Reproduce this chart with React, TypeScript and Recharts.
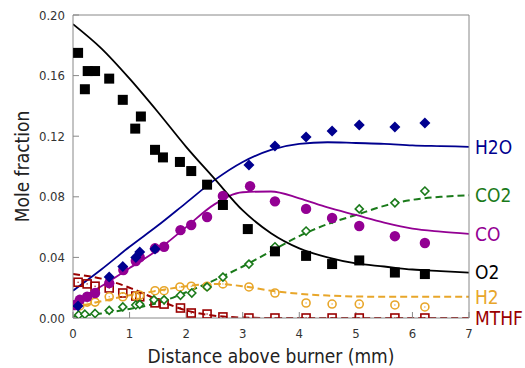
import React from 'react';
import { ComposedChart, Line, Scatter, XAxis, YAxis, ReferenceDot } from 'recharts';

// Model (simulation) curves
const modelX = [0, 0.5, 1, 1.5, 2, 2.5, 3, 3.5, 4, 4.5, 5, 5.5, 6, 6.5, 7];
const o2Model = [0.194, 0.178, 0.158, 0.136, 0.113, 0.092, 0.071, 0.056, 0.046, 0.04, 0.036, 0.034, 0.032, 0.031, 0.03];
const h2oModel = [0.018, 0.032, 0.047, 0.061, 0.076, 0.091, 0.103, 0.111, 0.115, 0.116, 0.1155, 0.115, 0.114, 0.1135, 0.113];
const coModel = [0.0105, 0.021, 0.033, 0.045, 0.06, 0.075, 0.083, 0.0835, 0.079, 0.073, 0.068, 0.063, 0.059, 0.057, 0.0555];
const co2Model = [0.001, 0.003, 0.006, 0.01, 0.017, 0.025, 0.034, 0.044, 0.054, 0.062, 0.068, 0.074, 0.078, 0.08, 0.081];
const h2Model = [0.007, 0.011, 0.015, 0.018, 0.021, 0.0225, 0.021, 0.018, 0.016, 0.0148, 0.0142, 0.014, 0.014, 0.014, 0.014];
const mthfModel = [0.029, 0.026, 0.02, 0.012, 0.005, 0.0015, 0.0003, 0, 0, 0, 0, 0, 0, 0, 0];

// Experimental points
const o2X = [0.09, 0.21, 0.26, 0.39, 0.64, 0.88, 1.1, 1.2, 1.45, 1.59, 1.89, 2.09, 2.37, 2.65, 3.09, 3.57, 4.12, 4.58, 5.06, 5.69, 6.22];
const o2Y = [0.175, 0.151, 0.163, 0.163, 0.158, 0.144, 0.125, 0.133, 0.111, 0.106, 0.103, 0.097, 0.088, 0.0746, 0.0587, 0.044, 0.041, 0.0356, 0.038, 0.03, 0.029];
const h2oX = [0.09, 0.64, 0.88, 1.11, 1.18, 1.45, 3.11, 3.57, 4.12, 4.58, 5.06, 5.69, 6.22];
const h2oY = [0.008, 0.027, 0.034, 0.04, 0.0436, 0.0455, 0.101, 0.1135, 0.1195, 0.1234, 0.1274, 0.126, 0.1287];
const coX = [0.04, 0.12, 0.25, 0.39, 0.64, 0.89, 1.11, 1.18, 1.45, 1.61, 1.9, 2.09, 2.37, 2.65, 3.13, 3.57, 4.12, 4.58, 5.06, 5.69, 6.22];
const coY = [0.0086, 0.012, 0.014, 0.0165, 0.023, 0.0317, 0.0376, 0.04, 0.046, 0.047, 0.058, 0.0614, 0.0667, 0.0805, 0.087, 0.077, 0.072, 0.066, 0.0607, 0.054, 0.0495];
const co2X = [0.1, 0.21, 0.39, 0.64, 0.88, 1.11, 1.18, 1.43, 1.61, 1.9, 2.1, 2.37, 2.65, 3.11, 3.57, 4.12, 4.58, 5.06, 5.69, 6.22];
const co2Y = [0.002, 0.0025, 0.003, 0.005, 0.0073, 0.0086, 0.009, 0.012, 0.012, 0.015, 0.0165, 0.0205, 0.027, 0.0356, 0.047, 0.0574, 0.0653, 0.072, 0.076, 0.0838];
const h2X = [0.12, 0.25, 0.39, 0.64, 0.88, 1.11, 1.18, 1.45, 1.61, 1.89, 2.09, 2.37, 2.65, 3.11, 3.57, 4.12, 4.58, 5.06, 5.69, 6.22];
const h2Y = [0.008, 0.0105, 0.0105, 0.014, 0.014, 0.0145, 0.015, 0.018, 0.018, 0.0205, 0.021, 0.021, 0.0225, 0.0205, 0.0165, 0.0099, 0.0092, 0.0092, 0.0086, 0.0073];
const mthfX = [0.09, 0.25, 0.39, 0.64, 0.88, 1.11, 1.18, 1.45, 1.61, 1.9, 2.09, 2.37, 2.65, 3.11, 3.57, 4.12, 4.58, 5.06, 5.69, 6.22];
const mthfY = [0.0236, 0.0225, 0.021, 0.0198, 0.0165, 0.0145, 0.014, 0.01, 0.0092, 0.0066, 0.0033, 0.0026, 0.0007, 0, 0, 0, 0, 0, 0, 0];

const xTicks = [0, 1, 2, 3, 4, 5, 6, 7];
const yTicks = [0, 0.04, 0.08, 0.12, 0.16, 0.2];

const zip = (xs: number[], ys: number[]) => xs.map((x, i) => ({ x, y: ys[i] }));

const C = {
  o2: '#000000',
  h2o: '#00008f',
  co: '#930093',
  co2: '#1a7a1a',
  h2: '#e8a62a',
  mthf: '#9a0000',
  axis: '#888888',
};

const FilledSquare = (p: any) => <rect x={p.cx - 5} y={p.cy - 5} width={10} height={10} fill={C.o2} />;
const FilledDiamond = (p: any) => (
  <polygon points={`${p.cx},${p.cy - 5.5} ${p.cx + 5.5},${p.cy} ${p.cx},${p.cy + 5.5} ${p.cx - 5.5},${p.cy}`} fill={C.h2o} />
);
const FilledCircle = (p: any) => <circle cx={p.cx} cy={p.cy} r={5.2} fill={C.co} />;
const OpenDiamond = (p: any) => (
  <g>
    <polygon points={`${p.cx},${p.cy - 4} ${p.cx + 4},${p.cy} ${p.cx},${p.cy + 4} ${p.cx - 4},${p.cy}`} fill="#ffffff" stroke={C.co2} strokeWidth={1.6} />
  </g>
);
const OpenCircle = (p: any) => (
  <g>
    <circle cx={p.cx} cy={p.cy} r={4} fill="none" stroke={C.h2} strokeWidth={1.6} />
    <circle cx={p.cx} cy={p.cy} r={0.7} fill={C.h2} />
  </g>
);
const OpenSquare = (p: any) => (
  <g>
    <rect x={p.cx - 4} y={p.cy - 4} width={8} height={8} fill="none" stroke={C.mthf} strokeWidth={1.6} />
    <circle cx={p.cx} cy={p.cy} r={0.7} fill={C.mthf} />
  </g>
);

const series = [
  { name: 'MTHF', color: C.mthf, model: mthfModel, dash: '7 4', xs: mthfX, ys: mthfY, shape: OpenSquare },
  { name: 'H2', color: C.h2, model: h2Model, dash: '7 4', xs: h2X, ys: h2Y, shape: OpenCircle },
  { name: 'CO2', color: C.co2, model: co2Model, dash: '7 4', xs: co2X, ys: co2Y, shape: OpenDiamond },
  { name: 'CO', color: C.co, model: coModel, dash: undefined, xs: coX, ys: coY, shape: FilledCircle },
  { name: 'H2O', color: C.h2o, model: h2oModel, dash: undefined, xs: h2oX, ys: h2oY, shape: FilledDiamond },
  { name: 'O2', color: C.o2, model: o2Model, dash: undefined, xs: o2X, ys: o2Y, shape: FilledSquare },
];

export default function App() {
  return (
    <div style={{ position: 'absolute', left: 0, top: 0, fontFamily: '"DejaVu Sans Condensed", "DejaVu Sans", sans-serif' }}>
      <ComposedChart width={525} height={368} margin={{ top: 0, right: 0, bottom: 0, left: 0 }}>
        <XAxis
          xAxisId="b"
          dataKey="x"
          type="number"
          domain={[0, 7]}
          ticks={xTicks}
          allowDataOverflow
          height={50}
          stroke={C.axis}
          tickSize={-6}
          tickMargin={17}
          tick={{ fill: '#333333', fontSize: 13 }}
          label={{ value: 'Distance above burner (mm)', position: 'insideBottom', offset: 5, fill: '#222222', fontSize: 19 }}
        />
        <XAxis
          xAxisId="t"
          orientation="top"
          dataKey="x"
          type="number"
          domain={[0, 7]}
          ticks={xTicks}
          allowDataOverflow
          height={15}
          stroke={C.axis}
          tickSize={-6}
          tick={false}
        />
        <YAxis
          yAxisId="l"
          type="number"
          domain={[0, 0.2]}
          ticks={yTicks}
          allowDataOverflow
          width={73}
          stroke={C.axis}
          tickSize={-6}
          tickMargin={14}
          tickFormatter={(v: number) => v.toFixed(2)}
          tick={{ fill: '#333333', fontSize: 13 }}
          label={{ value: 'Mole fraction', angle: -90, position: 'insideLeft', offset: 22, fill: '#222222', fontSize: 19, style: { textAnchor: 'middle' } }}
        />
        <YAxis
          yAxisId="r"
          orientation="right"
          type="number"
          domain={[0, 0.2]}
          ticks={yTicks}
          allowDataOverflow
          width={56}
          stroke={C.axis}
          tickSize={-6}
          tick={false}
        />
        {series.map((s) => (
          <Line
            key={'m' + s.name}
            xAxisId="b"
            yAxisId="l"
            data={zip(modelX, s.model)}
            dataKey="y"
            type="monotone"
            stroke={s.color}
            strokeWidth={s.dash ? 2 : 1.8}
            strokeDasharray={s.dash}
            dot={false}
            activeDot={false}
            isAnimationActive={false}
          />
        ))}
        {series.map((s) => (
          <Scatter
            key={'e' + s.name}
            xAxisId="b"
            yAxisId="l"
            data={zip(s.xs, s.ys)}
            dataKey="y"
            shape={s.shape}
            isAnimationActive={false}
          />
        ))}
        {series.map((s) => (
          <ReferenceDot
            key={'l' + s.name}
            xAxisId="b"
            yAxisId="l"
            x={modelX[modelX.length - 1]}
            y={s.model[s.model.length - 1]}
            r={0}
            fill="none"
            stroke="none"
            label={{ value: s.name, position: 'right', offset: 6, fill: s.color, fontSize: 19 }}
          />
        ))}
      </ComposedChart>
    </div>
  );
}
